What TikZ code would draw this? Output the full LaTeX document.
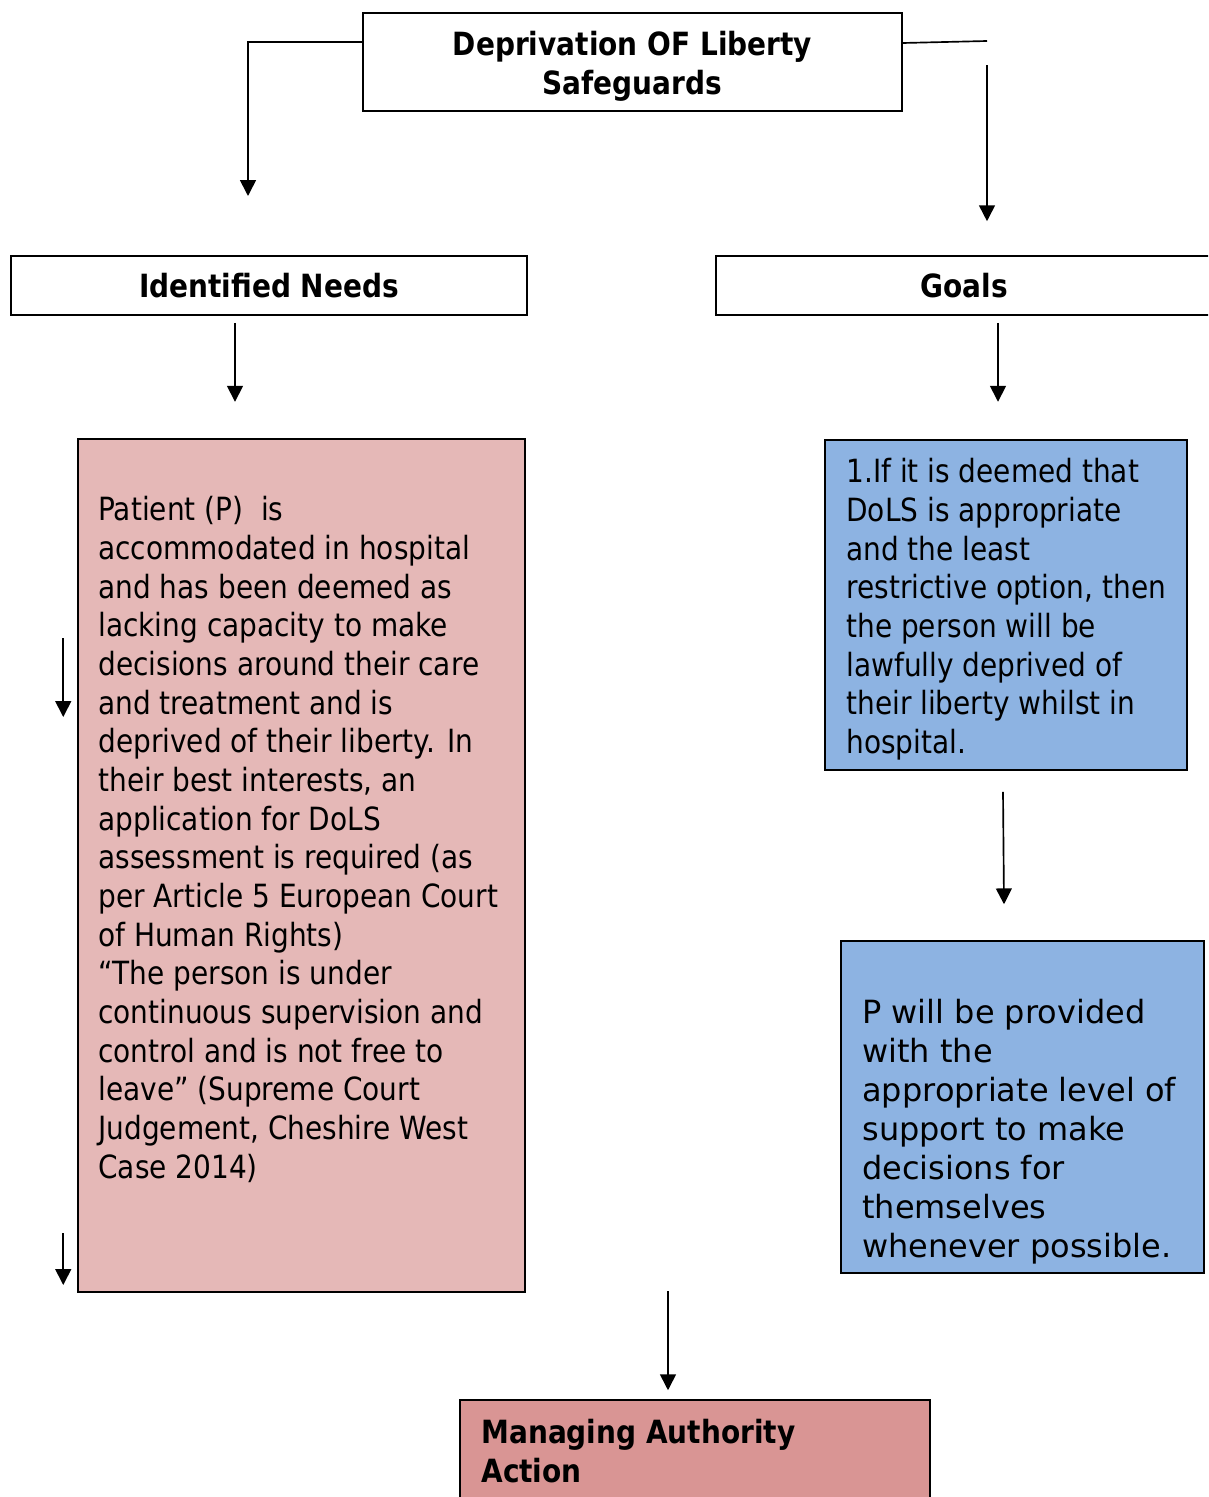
\documentclass[tikz,border=0pt]{standalone}
\usepackage{fontspec}
\setmainfont{DejaVu Sans}[FakeStretch=0.875]
\newfontfamily\verdana{DejaVu Sans}
\usetikzlibrary{arrows.meta,calc}

\definecolor{needpink}{HTML}{E5B8B7}
\definecolor{goalblue}{HTML}{8DB3E2}
\definecolor{actionred}{HTML}{D99594}

\tikzset{
	box/.style = {draw, line width=0.9pt, inner sep=0pt},
	title/.style = {font=\fontsize{18.2}{22}\selectfont\bfseries, align=center},
	body/.style = {font=\fontsize{18.2}{22}\selectfont, align=left, anchor=north west, inner sep=0pt},
	arr/.style = {line width=0.95pt, -{Triangle[length=9pt,width=9pt]}}
}

\begin{document}
\begin{tikzpicture}[x=0.02cm, y=-0.02cm]

	\useasboundingbox (0,0) rectangle (1208,1497);
	\clip (0,0) rectangle (1208,1497);

	% heading boxes
	\node [box, minimum width=10.78cm, minimum height=1.96cm] (dols) at (632.5,62) {};
	\node [title, inner sep=0pt] (dolstext) at (632.5,66) {Deprivation OF Liberty\\Safeguards};
	\node [box, title, minimum width=10.32cm, minimum height=1.18cm] (needs) at (269,285.5) {Identified Needs};
	\node [box, title, minimum width=9.92cm, minimum height=1.18cm] (goals) at (964,285.5) {Goals};

	% content boxes
	\node [box, fill=needpink, minimum width=8.94cm, minimum height=17.06cm] (needbox) at (301.5,865.5) {};
	\node [box, fill=goalblue, minimum width=7.24cm, minimum height=6.6cm] (goalbox) at (1006,605) {};
	\node [box, fill=goalblue, minimum width=7.26cm, minimum height=6.64cm] (supportbox) at (1022.5,1107) {};
	\node [box, fill=actionred, minimum width=9.4cm, minimum height=2.2cm] (action) at (695,1455) {};

	\node [body] (needtext) at (98,493.5) {\strut Patient (P)~ is\\
		accommodated in hospital\\
		and has been deemed as\\
		lacking capacity to make\\
		decisions around their care\\
		and treatment and is\\
		deprived of their liberty. In\\
		their best interests, an\\
		application for DoLS\\
		assessment is required (as\\
		per Article 5 European Court\\
		of Human Rights)\\
		“The person is under\\
		continuous supervision and\\
		control and is not free to\\
		leave” (Supreme Court\\
		Judgement, Cheshire West\\
		Case 2014)};

	\node [body] (goaltext) at (846,455.5) {\strut 1.If it is deemed that\\
		DoLS is appropriate\\
		and the least\\
		restrictive option, then\\
		the person will be\\
		lawfully deprived of\\
		their liberty whilst in\\
		hospital.};

	\node [body, font=\verdana\fontsize{18.2}{22.2}\selectfont] (supporttext) at (862,996) {\strut P will be provided\\
		with the\\
		appropriate level of\\
		support to make\\
		decisions for\\
		themselves\\
		whenever possible.};

	\node [body, font=\fontsize{18.2}{22}\selectfont\bfseries] (actiontext) at (481,1416) {\strut Managing Authority\\Action};

	% connectors
	\coordinate (needtip) at (248,196);
	\coordinate (rightend) at (987,41);
	\draw [arr] ($(dols.west)+(0,-20)$) -| (needtip);
	\draw [line width=0.95pt] ($(dols.east)+(0,-19)$) -- (rightend);
	\draw [arr] ($(goals.north)+(23,-190)$) -- ($(goals.north)+(23,-34)$);

	\draw [arr] ($(needs.south)+(-34,7)$) -- ($(needs.south)+(-34,86)$);
	\draw [arr] ($(goals.south)+(34,7)$) -- ($(goals.south)+(34,86)$);
	\draw [arr] ($(goalbox.south)+(-3,21)$) -- ($(supportbox.north)+(-18.5,-36)$);

	\draw [arr] ($(needbox.west)+(-14,-227.5)$) -- ($(needbox.west)+(-14,-148.5)$);
	\draw [arr] ($(needbox.west)+(-14,367.5)$) -- ($(needbox.west)+(-14,419.5)$);
	\draw [arr] ($(action.north)+(-27,-108)$) -- ($(action.north)+(-27,-9)$);

\end{tikzpicture}
\end{document}
